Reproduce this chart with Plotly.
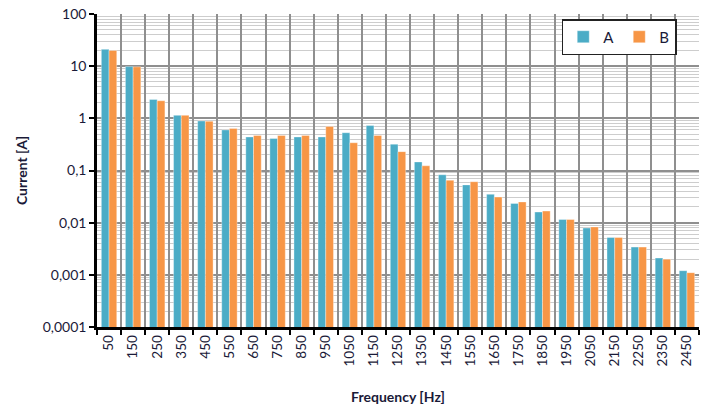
import plotly.graph_objects as go

# Harmonic frequencies and measured currents for the two phases
frequencies = [50, 150, 250, 350, 450, 550, 650, 750, 850, 950, 1050, 1150, 1250,
               1350, 1450, 1550, 1650, 1750, 1850, 1950, 2050, 2150, 2250, 2350, 2450]
current_a = [21, 9.8, 2.3, 1.14, 0.89, 0.60, 0.44, 0.41, 0.44, 0.44, 0.53, 0.73, 0.32,
             0.146, 0.083, 0.053, 0.035, 0.0234, 0.016, 0.0115, 0.0079, 0.0052, 0.0034,
             0.0021, 0.0012]
current_b = [20, 9.7, 2.17, 1.14, 0.88, 0.64, 0.47, 0.47, 0.47, 0.70, 0.34, 0.47, 0.23,
             0.123, 0.065, 0.061, 0.031, 0.025, 0.0167, 0.0115, 0.0083, 0.0052, 0.0034,
             0.0020, 0.0011]

y_tick_vals = [0.0001, 0.001, 0.01, 0.1, 1, 10, 100]
y_tick_text = ["0,0001", "0,001", "0,01", "0,1", "1", "10", "100"]

cats = [str(f) for f in frequencies]
minor_vals = [m * 10.0 ** e for e in range(-4, 2) for m in range(2, 10)]

TEXT = "#1a1a38"
FONT = "Lato, 'Open Sans', sans-serif"

fig = go.Figure()
fig.add_trace(go.Bar(x=cats, y=current_a, name="A", marker_color="#4BACC6",
                     marker_line=dict(color="rgba(255,255,255,0.7)", width=0.5)))
fig.add_trace(go.Bar(x=cats, y=current_b, name="B", marker_color="#F79646",
                     marker_line=dict(color="rgba(255,255,255,0.7)", width=0.5)))

fig.update_layout(
    width=716, height=405,
    margin=dict(l=97, r=17, t=14, b=78, autoexpand=False),
    paper_bgcolor="white", plot_bgcolor="white",
    barmode="group", bargap=0.36, bargroupgap=0.0,
    font=dict(family=FONT, size=13, color=TEXT),
    legend=dict(orientation="h", x=0.772, y=0.984, xanchor="left", yanchor="top",
                bordercolor="#222222", borderwidth=1.5, bgcolor="white",
                font=dict(size=15, color=TEXT), itemwidth=30,
                entrywidth=11, entrywidthmode="pixels",
                traceorder="normal"),
    xaxis=dict(
        type="category", tickson="boundaries", automargin=False,
        showline=True, linecolor="black", linewidth=2.5,
        ticks="outside", ticklen=5, tickwidth=2, tickcolor="black",
        showgrid=True, gridcolor="#8f8f8f", gridwidth=1.5,
        tickangle=-90, tickfont=dict(size=13.5, color=TEXT),
        title=dict(text="<b>Frequency [Hz]</b>", font=dict(size=14, color=TEXT), standoff=28),
        range=[-0.5, len(cats) - 0.5],
    ),
    yaxis=dict(
        type="log", range=[-4, 2], automargin=False,
        tickvals=y_tick_vals, ticktext=y_tick_text,
        showline=True, linecolor="black", linewidth=2.5,
        ticks="outside", ticklen=5, tickwidth=2, tickcolor="black",
        showgrid=True, gridcolor="#8f8f8f", gridwidth=1.5,
        tickfont=dict(size=14, color=TEXT),
        minor=dict(tickvals=minor_vals, showgrid=True, gridcolor="#cdcdcd",
                   gridwidth=1, ticks=""),
        title=dict(text="<b>Current [A]</b>", font=dict(size=14, color=TEXT), standoff=12),
        zeroline=False,
    ),
)

fig.write_html("out.html")
